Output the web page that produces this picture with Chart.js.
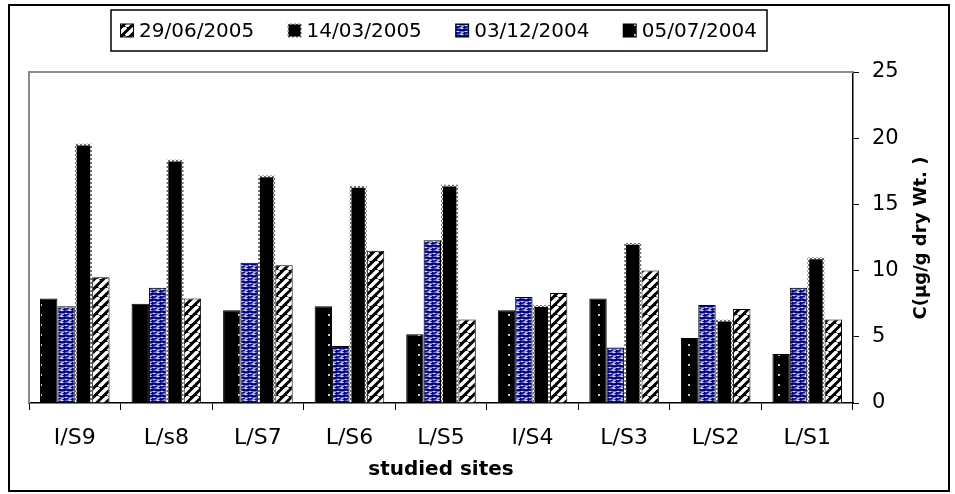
<!DOCTYPE html>
<html>
<head>
<meta charset="utf-8">
<script src="https://cdn.jsdelivr.net/npm/chart.js@4.4.1/dist/chart.umd.min.js"></script>
<style>
  html, body { margin: 0; padding: 0; background: #fff; }
  #wrap { width: 955px; height: 494px; }
</style>
</head>
<body>
<div id="wrap"><canvas id="chart" width="955" height="494"></canvas></div>
<script>
// sites on the x axis
const sites = ['I/S9', 'L/s8', 'L/S7', 'L/S6', 'L/S5', 'I/S4', 'L/S3', 'L/S2', 'L/S1'];

// C (µg/g dry wt.) per sampling date
const jul2004 = [7.9, 7.5, 7.0, 7.3, 5.2, 7.0, 7.9, 4.9, 3.7];
const dec2004 = [7.3, 8.7, 10.6, 4.3, 12.3, 8.0, 4.2, 7.4, 8.7];
const mar2005 = [19.6, 18.4, 17.2, 16.4, 16.5, 7.4, 12.1, 6.3, 11.0];
const jun2005 = [9.5, 7.9, 10.4, 11.5, 6.3, 8.3, 10.0, 7.1, 6.3];

const dateLabels = ['05/07/2004', '03/12/2004', '14/03/2005', '29/06/2005'];

const yMin = 0, yMax = 25, yStep = 5;
const xTitle = 'studied sites';
const yTitle = 'C(µg/g dry Wt. )';

const FONT = '"DejaVu Sans", "Liberation Sans", sans-serif';

// small canvas patterns, like the Excel fills
function makePattern(w, h, draw) {
    const c = document.createElement('canvas');
    c.width = w; c.height = h;
    const g = c.getContext('2d');
    draw(g, w, h);
    return g.createPattern(c, 'repeat');
}

const dotsFill = makePattern(18, 10, (g, w, h) => {
    g.fillStyle = '#000';
    g.fillRect(0, 0, w, h);
    g.fillStyle = '#a8dcdc';
    g.fillRect(4, 4, 2, 2);
});

const blueFill = makePattern(8, 6, (g, w, h) => {
    g.fillStyle = '#000080';
    g.fillRect(0, 0, w, h);
    g.fillStyle = '#d8dcff';
    g.beginPath();
    g.ellipse(2, 1.5, 1.8, 0.8, 0, 0, Math.PI * 2);
    g.ellipse(6, 4.5, 1.8, 0.8, 0, 0, Math.PI * 2);
    g.ellipse(-2, 4.5, 1.8, 0.8, 0, 0, Math.PI * 2);
    g.ellipse(10, 1.5, 1.8, 0.8, 0, 0, Math.PI * 2);
    g.fill();
});

const dottedEdge = makePattern(4, 4, (g, w, h) => {
    g.fillStyle = '#ffffff';
    g.fillRect(0, 0, w, h);
    g.fillStyle = '#707070';
    g.fillRect(0, 0, 2, 2);
    g.fillRect(2, 2, 2, 2);
});

const hatchFill = makePattern(9, 9, (g, w, h) => {
    g.fillStyle = '#000';
    g.fillRect(0, 0, w, h);
    g.strokeStyle = '#fff';
    g.lineWidth = 3.4;
    for (let k = -1; k <= 1; k++) {
        g.beginPath();
        g.moveTo(k * w, h);
        g.lineTo(k * w + w, 0);
        g.stroke();
    }
});

// outer frame, plot border, own legend and the right axis title
const decorations = {
    id: 'decorations',
    beforeDraw(chart) {
        const ctx = chart.ctx;
        ctx.save();
        ctx.fillStyle = '#fff';
        ctx.fillRect(0, 0, chart.width, chart.height);
        ctx.strokeStyle = '#000';
        ctx.lineWidth = 2;
        ctx.strokeRect(9, 5, 940, 486);
        ctx.restore();
    },
    beforeDatasetsDraw(chart) {
        const { ctx, chartArea: a } = chart;
        ctx.save();
        ctx.strokeStyle = '#8c8c8c';
        ctx.lineWidth = 2;
        ctx.beginPath();
        ctx.moveTo(a.left, a.bottom);
        ctx.lineTo(a.left, a.top);
        ctx.lineTo(a.right, a.top);
        ctx.stroke();
        ctx.restore();
    },
    afterDraw(chart) {
        const ctx = chart.ctx;
        ctx.save();

        // legend box
        const box = { x: 111, y: 10, w: 656, h: 41 };
        ctx.strokeStyle = '#000';
        ctx.lineWidth = 1.5;
        ctx.strokeRect(box.x, box.y, box.w, box.h);

        ctx.font = '20px ' + FONT;
        ctx.textBaseline = 'middle';
        ctx.fillStyle = '#000';
        const items = chart.data.datasets.slice().reverse();
        const sw = 12, gap = 6, pad = 10;
        const widths = items.map(d => ctx.measureText(d.label).width);
        const content = widths.reduce((s, w) => s + sw + gap + w, 0);
        const between = (box.w - 2 * pad - content) / (items.length - 1);
        let x = box.x + pad;
        const cy = box.y + box.h / 2;
        items.forEach((d, i) => {
            ctx.fillStyle = d.borderColor;
            ctx.fillRect(x - 1, cy - sw / 2 - 1, sw + 2, sw + 2);
            ctx.fillStyle = d.backgroundColor;
            ctx.fillRect(x, cy - sw / 2, sw, sw);
            ctx.fillStyle = '#000';
            ctx.fillText(d.label, x + sw + gap, cy + 1);
            x += sw + gap + widths[i] + between;
        });

        // axis title, reading bottom to top
        ctx.translate(921, 238);
        ctx.rotate(-Math.PI / 2);
        ctx.textAlign = 'center';
        ctx.font = 'bold 18px ' + FONT;
        ctx.fillText(yTitle, 0, 0);
        ctx.restore();
    }
};

new Chart(document.getElementById('chart'), {
    type: 'bar',
    data: {
        labels: sites,
        datasets: [
            { label: dateLabels[0], data: jul2004, backgroundColor: dotsFill, borderColor: '#000', borderWidth: 1 },
            { label: dateLabels[1], data: dec2004, backgroundColor: blueFill, borderColor: '#000', borderWidth: 1 },
            { label: dateLabels[2], data: mar2005, backgroundColor: '#000', borderColor: dottedEdge, borderWidth: 2 },
            { label: dateLabels[3], data: jun2005, backgroundColor: hatchFill, borderColor: '#000', borderWidth: 1 }
        ]
    },
    options: {
        responsive: false,
        animation: false,
        layout: { padding: { left: 29, top: 72, right: 0, bottom: 0 } },
        datasets: { bar: { categoryPercentage: 0.76, barPercentage: 1 } },
        plugins: {
            legend: { display: false },
            tooltip: { enabled: false }
        },
        scales: {
            x: {
                afterFit(scale) { scale.height = 91; },
                grid: { display: true, drawOnChartArea: false, drawTicks: true, tickLength: 7, color: '#000', offset: true },
                border: { display: true, color: '#000', width: 1.5 },
                ticks: { color: '#000', font: { family: FONT, size: 22 }, padding: 15, maxRotation: 0, autoSkip: false },
                title: {
                    display: true,
                    text: xTitle,
                    color: '#000',
                    font: { family: FONT, size: 20, weight: 'bold' },
                    padding: { top: 4, bottom: 12 }
                }
            },
            y: {
                afterFit(scale) { scale.width = 102; },
                position: 'right',
                min: yMin,
                max: yMax,
                ticks: { stepSize: yStep, color: '#000', font: { family: FONT, size: 21 }, padding: 13 },
                grid: { drawOnChartArea: false, tickLength: 6, color: '#000' },
                border: { display: true, color: '#000', width: 1.5 }
            }
        }
    },
    plugins: [decorations]
});
</script>
</body>
</html>
